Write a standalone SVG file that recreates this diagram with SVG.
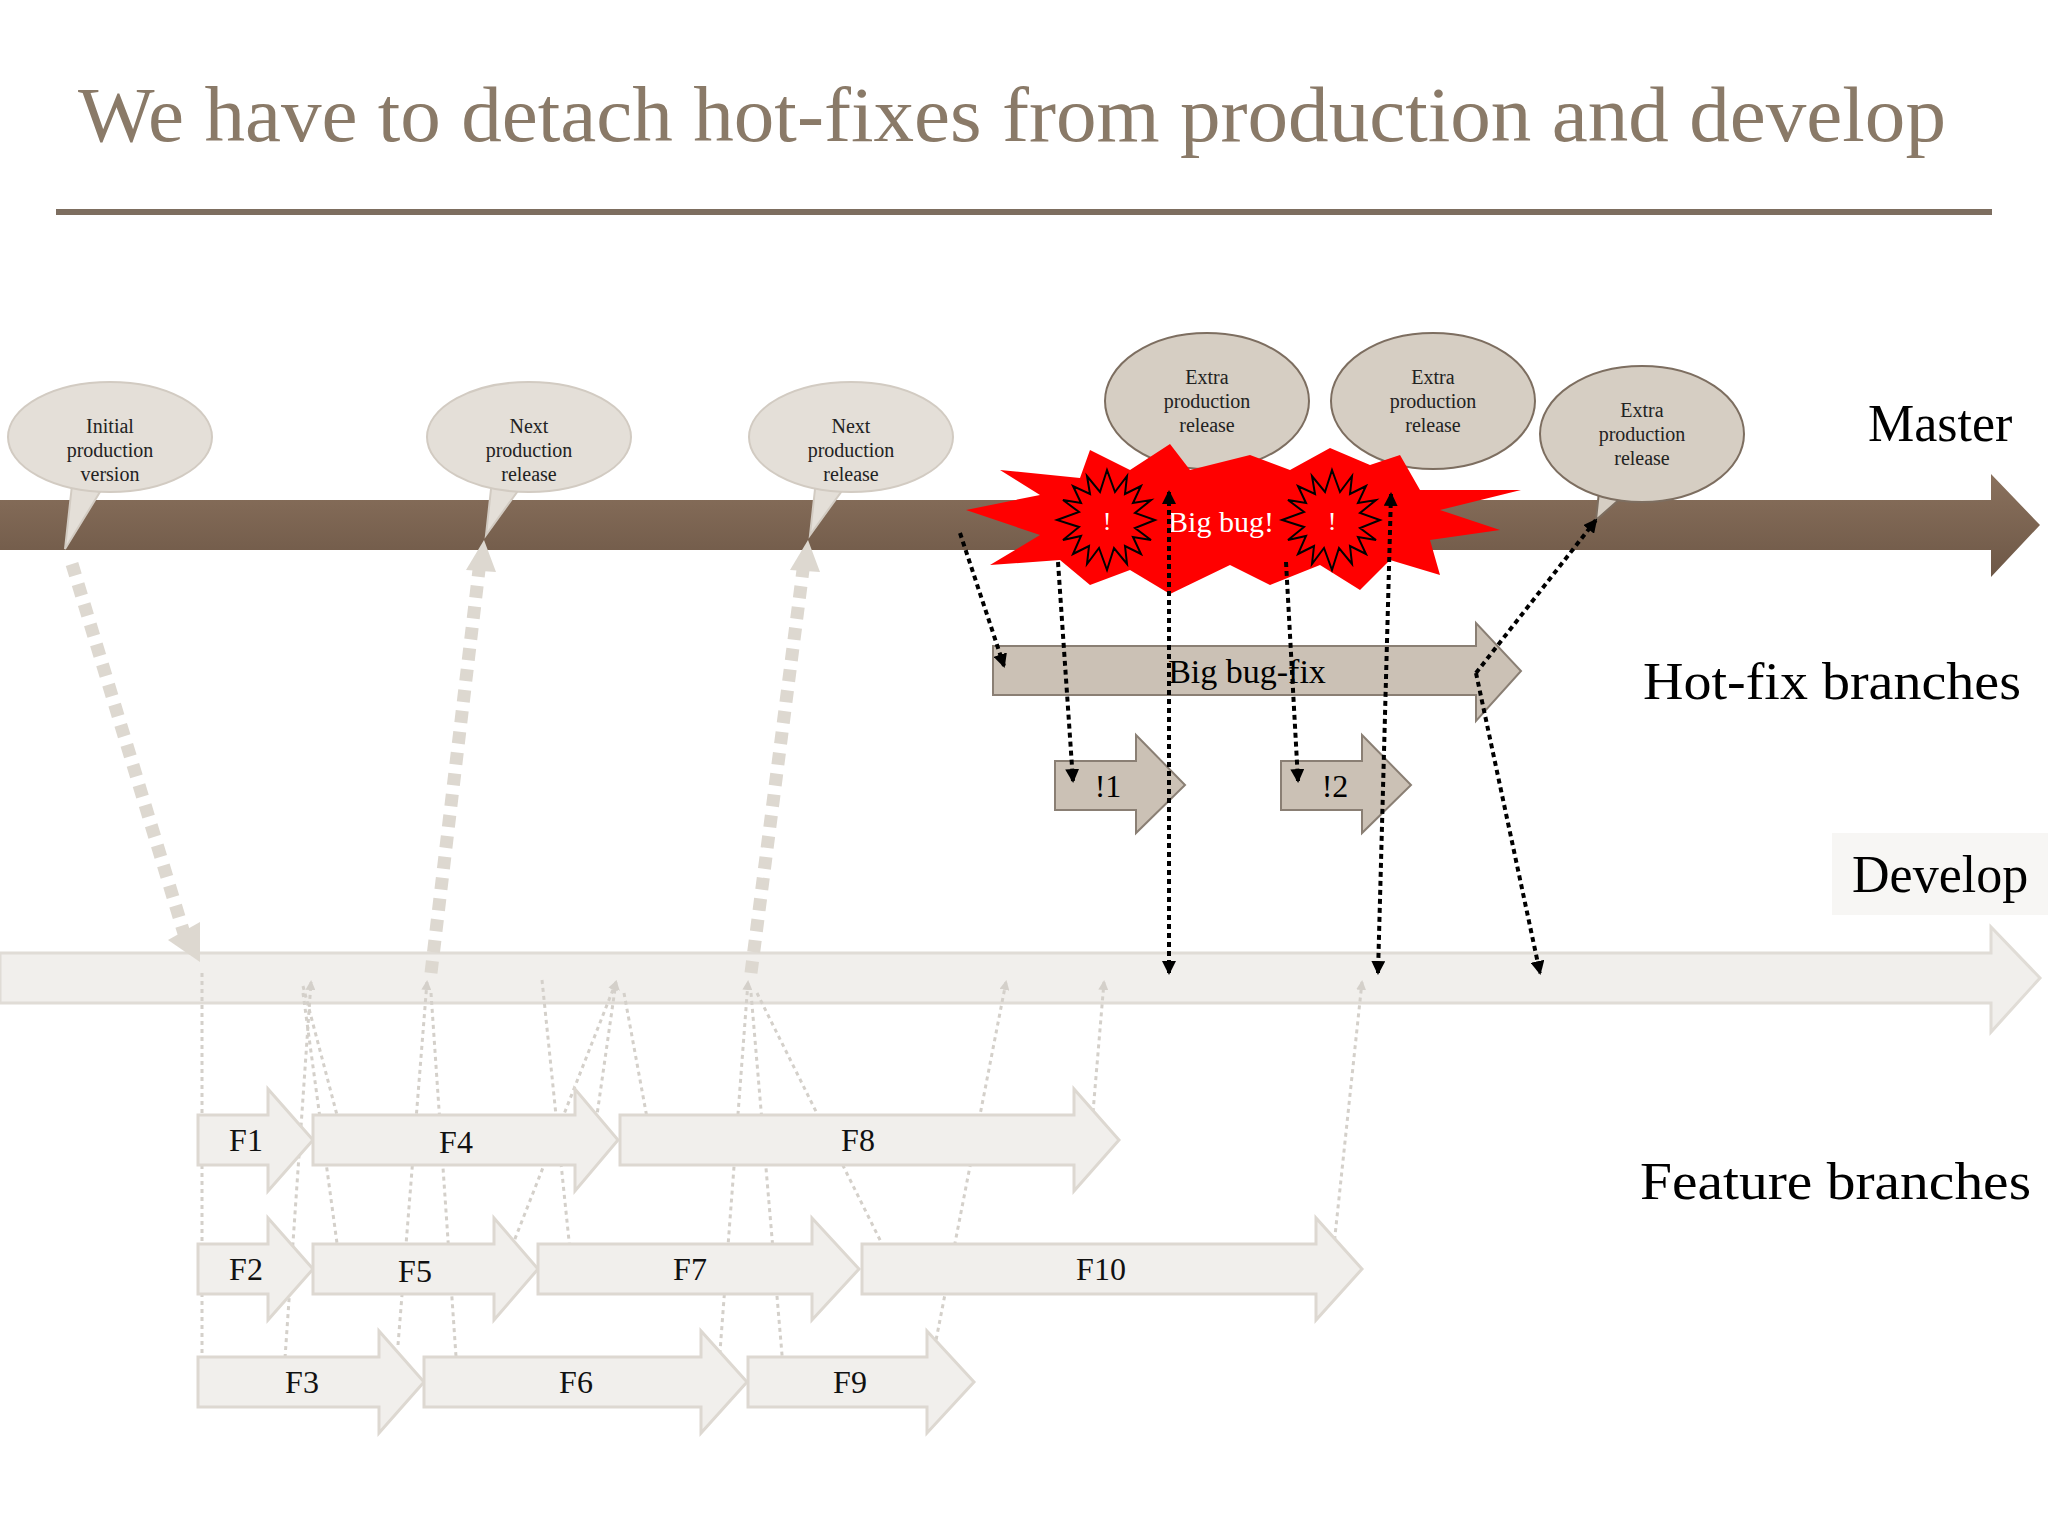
<svg xmlns="http://www.w3.org/2000/svg" width="2048" height="1536" viewBox="0 0 2048 1536">
<style>
.t{font-family:"Liberation Serif",serif}
.bub{fill:#e4dfd8;stroke:#d2cbc2;stroke-width:2}
.bubd{fill:#d6cec3;stroke:#7d6e60;stroke-width:2}
.bt{font-family:"Liberation Serif",serif;font-size:20px;text-anchor:middle;fill:#222}
.feat{fill:#f1efec;stroke:#ddd8d1;stroke-width:3}
.ft{font-family:"Liberation Serif",serif;font-size:32px;text-anchor:middle;fill:#111}
.hf{fill:#cbc1b5;stroke:#8a7f74;stroke-width:2}
.lg{stroke:#d4d0ca;stroke-width:3;stroke-dasharray:4 4;fill:none;marker-end:url(#la)}
.bk{stroke:#000;stroke-width:4;stroke-dasharray:5 4;fill:none;marker-end:url(#ba)}
.thick{stroke:#ddd8d0;stroke-width:13;stroke-dasharray:12 9;fill:none}
</style>
<defs>
<marker id="la" markerWidth="10" markerHeight="10" refX="8" refY="5" orient="auto" markerUnits="userSpaceOnUse"><path d="M0,0 L10,5 L0,10 z" fill="#d4d0ca"/></marker>
<marker id="ba" markerWidth="14" markerHeight="14" refX="12" refY="7" orient="auto" markerUnits="userSpaceOnUse"><path d="M0,0 L14,7 L0,14 z" fill="#000"/></marker>
<marker id="bs" markerWidth="14" markerHeight="14" refX="2" refY="7" orient="auto" markerUnits="userSpaceOnUse"><path d="M14,0 L0,7 L14,14 z" fill="#000"/></marker>
<linearGradient id="mg" x1="0" y1="0" x2="0" y2="1"><stop offset="0" stop-color="#8a715d"/><stop offset="1" stop-color="#6d5746"/></linearGradient>
<polygon id="star" points="48,0 28,8 44,20 26,17 34,34 18,26 20,44 7,28 0,50 -8,28 -20,44 -18,26 -34,34 -26,16 -44,20 -28,7 -50,0 -28,-8 -44,-20 -26,-17 -34,-34 -17,-26 -20,-44 -7,-28 0,-50 8,-28 20,-44 18,-26 34,-34 26,-17 44,-20 28,-7"/>
</defs>
<rect width="2048" height="1536" fill="#fff"/>
<text class="t" x="78" y="141" font-size="78" fill="#8a7a68" textLength="1868" lengthAdjust="spacingAndGlyphs">We have to detach hot-fixes from production and develop</text>
<line x1="56" y1="212" x2="1992" y2="212" stroke="#7d6e60" stroke-width="6"/>

<g id="master"><polygon points="0,500 1991,500 1991,474 2040,525 1991,577 1991,550 0,550" fill="url(#mg)"/></g>
<g id="develop"><polygon points="0,953 1991,953 1991,927 2040,978 1991,1032 1991,1003 0,1003" fill="#f1efec" stroke="#e0dcd6" stroke-width="3"/></g>
<rect x="1832" y="833" width="216" height="82" fill="#f7f6f4"/>
<text class="t" x="1868" y="441" font-size="52">Master</text>
<text class="t" x="1643" y="699" font-size="52" textLength="378" lengthAdjust="spacingAndGlyphs">Hot-fix branches</text>
<text class="t" x="1852" y="892" font-size="52">Develop</text>
<text class="t" x="1640" y="1199" font-size="52" textLength="391" lengthAdjust="spacingAndGlyphs">Feature branches</text>

<g id="connectors">
<line class="thick" x1="72" y1="564" x2="186" y2="940"/>
<polygon points="168,940 200,962 200,922" fill="#ddd8d0"/>
<line class="thick" x1="431" y1="973" x2="479" y2="570"/>
<polygon points="466,570 484,540 496,572" fill="#ddd8d0"/>
<line class="thick" x1="751" y1="973" x2="803" y2="570"/>
<polygon points="790,570 808,540 820,572" fill="#ddd8d0"/>
<line class="lg" x1="202" y1="973" x2="202" y2="1371"/>
<line class="lg" x1="303" y1="986" x2="342" y2="1134"/>
<line class="lg" x1="285" y1="1358" x2="311" y2="982"/>
<line class="lg" x1="303" y1="993" x2="342" y2="1280"/>
<line class="lg" x1="398" y1="1345" x2="427" y2="982"/>
<line class="lg" x1="431" y1="993" x2="457" y2="1371"/>
<line class="lg" x1="542" y1="980" x2="571" y2="1260"/>
<line class="lg" x1="509" y1="1254" x2="616" y2="982"/>
<line class="lg" x1="594" y1="1136" x2="616" y2="982"/>
<line class="lg" x1="624" y1="993" x2="650" y2="1134"/>
<line class="lg" x1="718" y1="1378" x2="748" y2="982"/>
<line class="lg" x1="751" y1="993" x2="784" y2="1378"/>
<line class="lg" x1="757" y1="993" x2="892" y2="1264"/>
<line class="lg" x1="930" y1="1371" x2="1006" y2="982"/>
<line class="lg" x1="1091" y1="1136" x2="1104" y2="982"/>
<line class="lg" x1="1332" y1="1264" x2="1362" y2="982"/>
</g>

<g id="features">
<g id="F1"><polygon class="feat" points="198,1115 268,1115 268,1089 313,1140 268,1191 268,1165 198,1165"/><text class="ft" x="246" y="1151">F1</text></g>
<g id="F4"><polygon class="feat" points="313,1115 575,1115 575,1089 618,1140 575,1191 575,1165 313,1165"/><text class="ft" x="456" y="1153">F4</text></g>
<g id="F8"><polygon class="feat" points="620,1115 1074,1115 1074,1089 1119,1140 1074,1191 1074,1165 620,1165"/><text class="ft" x="858" y="1151">F8</text></g>
<g id="F2"><polygon class="feat" points="198,1244 268,1244 268,1218 313,1269 268,1320 268,1294 198,1294"/><text class="ft" x="246" y="1280">F2</text></g>
<g id="F5"><polygon class="feat" points="313,1244 494,1244 494,1218 538,1269 494,1320 494,1294 313,1294"/><text class="ft" x="415" y="1282">F5</text></g>
<g id="F7"><polygon class="feat" points="538,1244 812,1244 812,1218 859,1269 812,1320 812,1294 538,1294"/><text class="ft" x="690" y="1280">F7</text></g>
<g id="F10"><polygon class="feat" points="862,1244 1316,1244 1316,1218 1362,1269 1316,1320 1316,1294 862,1294"/><text class="ft" x="1101" y="1280">F10</text></g>
<g id="F3"><polygon class="feat" points="198,1357 379,1357 379,1331 424,1382 379,1433 379,1407 198,1407"/><text class="ft" x="302" y="1393">F3</text></g>
<g id="F6"><polygon class="feat" points="424,1357 701,1357 701,1331 747,1382 701,1433 701,1407 424,1407"/><text class="ft" x="576" y="1393">F6</text></g>
<g id="F9"><polygon class="feat" points="748,1357 927,1357 927,1331 974,1382 927,1433 927,1407 748,1407"/><text class="ft" x="850" y="1393">F9</text></g>
</g>

<g id="bubbles">
<g id="b1"><polygon class="bub" points="65,549 72,485 100,492"/><ellipse cx="110" cy="437" rx="102" ry="55" class="bub"/><text class="bt"><tspan x="110" y="433">Initial</tspan><tspan x="110" y="457">production</tspan><tspan x="110" y="481">version</tspan></text></g>
<g id="b2"><polygon class="bub" points="486,535 492,480 520,488"/><ellipse cx="529" cy="437" rx="102" ry="55" class="bub"/><text class="bt"><tspan x="529" y="433">Next</tspan><tspan x="529" y="457">production</tspan><tspan x="529" y="481">release</tspan></text></g>
<g id="b3"><polygon class="bub" points="810,535 816,480 844,488"/><ellipse cx="851" cy="437" rx="102" ry="55" class="bub"/><text class="bt"><tspan x="851" y="433">Next</tspan><tspan x="851" y="457">production</tspan><tspan x="851" y="481">release</tspan></text></g>
<g id="b4"><polygon class="bubd" points="1162,483 1165,448 1195,455"/><ellipse cx="1207" cy="401" rx="102" ry="68" class="bubd"/><text class="bt"><tspan x="1207" y="384">Extra</tspan><tspan x="1207" y="408">production</tspan><tspan x="1207" y="432">release</tspan></text></g>
<g id="b5"><polygon class="bubd" points="1384,483 1388,448 1418,455"/><ellipse cx="1433" cy="401" rx="102" ry="68" class="bubd"/><text class="bt"><tspan x="1433" y="384">Extra</tspan><tspan x="1433" y="408">production</tspan><tspan x="1433" y="432">release</tspan></text></g>
<g id="b6"><polygon class="bubd" points="1596,520 1600,482 1630,490"/><ellipse cx="1642" cy="434" rx="102" ry="68" class="bubd"/><text class="bt"><tspan x="1642" y="417">Extra</tspan><tspan x="1642" y="441">production</tspan><tspan x="1642" y="465">release</tspan></text></g>
</g>

<g id="bug">
<polygon fill="#f00" points="966,510 1040,495 1000,470 1080,478 1090,450 1130,470 1170,444 1190,470 1250,455 1290,470 1330,448 1370,465 1400,455 1420,490 1521,490 1440,510 1500,530 1430,540 1440,575 1390,560 1360,590 1320,565 1270,585 1230,565 1170,594 1130,570 1090,585 1060,560 990,565 1040,535"/>
<use href="#star" transform="translate(1107,520)" fill="#f00" stroke="#000" stroke-width="2"/>
<use href="#star" transform="translate(1332,520)" fill="#f00" stroke="#000" stroke-width="2"/>
<text class="t" x="1107" y="530" font-size="26" fill="#fff" text-anchor="middle">!</text>
<text class="t" x="1332" y="530" font-size="26" fill="#fff" text-anchor="middle">!</text>
<text class="t" x="1221" y="532" font-size="30" fill="#fff" text-anchor="middle">Big bug!</text>
</g>

<g id="hotfix">
<g id="bigfix"><polygon class="hf" points="993,646 1476,646 1476,623 1521,671 1476,721 1476,695 993,695"/><text class="t" x="1247" y="683" font-size="34" text-anchor="middle">Big bug-fix</text></g>
<g id="h1"><polygon class="hf" points="1055,761 1136,761 1136,735 1185,785 1136,833 1136,810 1055,810"/><text class="t" x="1108" y="797" font-size="32" text-anchor="middle">!1</text></g>
<g id="h2"><polygon class="hf" points="1281,761 1362,761 1362,735 1411,785 1362,833 1362,810 1281,810"/><text class="t" x="1335" y="797" font-size="32" text-anchor="middle">!2</text></g>
</g>

<g id="black-connectors">
<line class="bk" x1="960" y1="533" x2="1004" y2="666"/>
<line class="bk" x1="1058" y1="562" x2="1073" y2="781"/>
<line class="bk" x1="1169" y1="492" x2="1169" y2="973" marker-start="url(#bs)"/>
<line class="bk" x1="1286" y1="562" x2="1298" y2="781"/>
<line class="bk" x1="1391" y1="494" x2="1378" y2="973" marker-start="url(#bs)"/>
<line class="bk" x1="1476" y1="673" x2="1596" y2="520"/>
<line class="bk" x1="1476" y1="673" x2="1540" y2="973"/>
</g>
</svg>
